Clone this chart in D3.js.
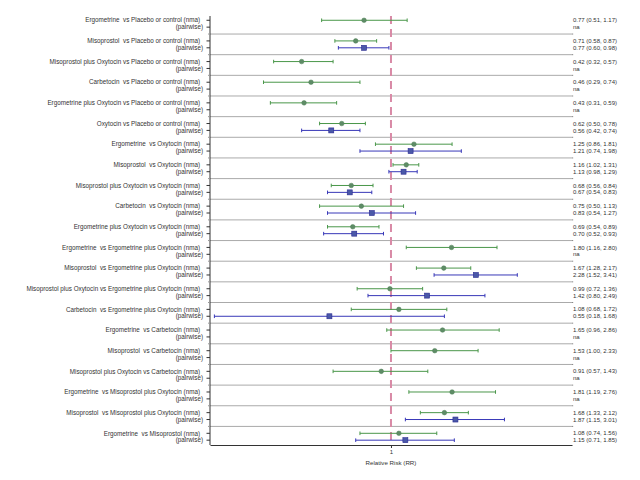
<!DOCTYPE html>
<html>
<head>
<meta charset="utf-8">
<script src="https://cdn.jsdelivr.net/npm/d3@7/dist/d3.min.js"></script>
<style>
  html, body { margin: 0; padding: 0; background: #fff; }
  svg { display: block; }
  text { font-family: "Liberation Sans", Arial, sans-serif; white-space: pre; }
</style>
</head>
<body>
<svg id="chart" width="640" height="480"></svg>
<script>
// ---- DATA ----
const comparisons = [
  "Ergometrine  vs Placebo or control",
  "Misoprostol  vs Placebo or control",
  "Misoprostol plus Oxytocin vs Placebo or control",
  "Carbetocin  vs Placebo or control",
  "Ergometrine plus Oxytocin vs Placebo or control",
  "Oxytocin vs Placebo or control",
  "Ergometrine  vs Oxytocin",
  "Misoprostol  vs Oxytocin",
  "Misoprostol plus Oxytocin vs Oxytocin",
  "Carbetocin  vs Oxytocin",
  "Ergometrine plus Oxytocin vs Oxytocin",
  "Ergometrine  vs Ergometrine plus Oxytocin",
  "Misoprostol  vs Ergometrine plus Oxytocin",
  "Misoprostol plus Oxytocin vs Ergometrine plus Oxytocin",
  "Carbetocin  vs Ergometrine plus Oxytocin",
  "Ergometrine  vs Carbetocin",
  "Misoprostol  vs Carbetocin",
  "Misoprostol plus Oxytocin vs Carbetocin",
  "Ergometrine  vs Misoprostol plus Oxytocin",
  "Misoprostol  vs Misoprostol plus Oxytocin",
  "Ergometrine  vs Misoprostol"
];
const nmaRR    = [0.77,0.71,0.42,0.46,0.43,0.62,1.25,1.16,0.68,0.75,0.69,1.80,1.67,0.99,1.08,1.65,1.53,0.91,1.81,1.68,1.08];
const nmaLow   = [0.51,0.58,0.32,0.29,0.31,0.50,0.86,1.02,0.56,0.50,0.54,1.16,1.28,0.72,0.68,0.96,1.00,0.57,1.19,1.33,0.74];
const nmaHigh  = [1.17,0.87,0.57,0.74,0.59,0.78,1.81,1.31,0.84,1.13,0.89,2.80,2.17,1.36,1.72,2.86,2.33,1.43,2.76,2.12,1.56];
const pwRR     = [null,0.77,null,null,null,0.56,1.21,1.13,0.67,0.83,0.70,null,2.28,1.42,0.55,null,null,null,null,1.87,1.15];
const pwLow    = [null,0.60,null,null,null,0.42,0.74,0.98,0.54,0.54,0.52,null,1.52,0.80,0.18,null,null,null,null,1.15,0.71];
const pwHigh   = [null,0.98,null,null,null,0.74,1.98,1.29,0.83,1.27,0.93,null,3.41,2.49,1.68,null,null,null,null,3.01,1.85];
const xTicks   = [1];
const xTitle   = "Relative Risk (RR)";

// ---- LAYOUT ----
const svg = d3.select("#chart");
const pLeft = 210, pRight = 572, pTop = 16, pBottom = 445;
const n = comparisons.length;
const x = d3.scaleLog().domain([0.1725, 5.8]).range([pLeft, pRight]);
const y = d3.scaleLinear().domain([-0.62, 3 * n - 1.3]).range([pTop, pBottom]);

const fmt = v => v.toFixed(2);
const cNmaLine = "#4a974a", cNmaPt = "#5e8c66";
const cPwLine = "#3838b8", cPwPt = "#4a58a8";

// separators
const seps = d3.range(n - 1).map(i => 3 * i + 2);
svg.append("g").selectAll("line").data(seps).join("line")
  .attr("x1", pLeft).attr("x2", pRight)
  .attr("y1", d => y(d)).attr("y2", d => y(d))
  .attr("stroke", "#aaaaaa").attr("stroke-width", 1);

// reference line
svg.append("line")
  .attr("x1", x(1)).attr("x2", x(1))
  .attr("y1", pTop).attr("y2", pBottom)
  .attr("stroke", "#d98aa6").attr("stroke-width", 2)
  .attr("stroke-dasharray", "8,5");

// rows
const rows = [];
comparisons.forEach((c, i) => {
  rows.push({k: 3 * i, rr: nmaRR[i], lo: nmaLow[i], hi: nmaHigh[i], type: "nma"});
  rows.push({k: 3 * i + 1, rr: pwRR[i], lo: pwLow[i], hi: pwHigh[i], type: "pw"});
});
const drawn = rows.filter(r => r.rr != null);

const g = svg.append("g");
g.selectAll("line.ci").data(drawn).join("line").attr("class", "ci")
  .attr("x1", d => x(d.lo)).attr("x2", d => x(d.hi))
  .attr("y1", d => y(d.k)).attr("y2", d => y(d.k))
  .attr("stroke", d => d.type === "nma" ? cNmaLine : cPwLine).attr("stroke-width", 1);
["lo", "hi"].forEach(key => {
  g.selectAll("line.cap-" + key).data(drawn).join("line").attr("class", "cap-" + key)
    .attr("x1", d => x(d[key])).attr("x2", d => x(d[key]))
    .attr("y1", d => y(d.k) - 1.8).attr("y2", d => y(d.k) + 1.8)
    .attr("stroke", d => d.type === "nma" ? cNmaLine : cPwLine).attr("stroke-width", 1);
});
g.selectAll("circle").data(drawn.filter(d => d.type === "nma")).join("circle")
  .attr("cx", d => x(d.rr)).attr("cy", d => y(d.k)).attr("r", 2.3)
  .attr("fill", cNmaPt).attr("stroke", "#4f7f57").attr("stroke-width", 0.5);
g.selectAll("rect").data(drawn.filter(d => d.type === "pw")).join("rect")
  .attr("x", d => x(d.rr) - 2.5).attr("y", d => y(d.k) - 2.5)
  .attr("width", 5).attr("height", 5)
  .attr("fill", cPwPt).attr("stroke", "#2a2a90").attr("stroke-width", 0.6);

// left labels
const lab = svg.append("g").attr("font-size", 6.3).attr("fill", "#333");
comparisons.forEach((c, i) => {
  lab.append("text").attr("x", 200).attr("y", y(3 * i)).attr("dy", "0.35em")
    .attr("text-anchor", "end").text(c + " (nma)");
  lab.append("text").attr("x", 203).attr("y", y(3 * i + 1)).attr("dy", "0.35em")
    .attr("text-anchor", "end").text("(pairwise)");
});

// right values
const val = svg.append("g").attr("font-size", 6).attr("fill", "#333");
rows.forEach(r => {
  const t = r.rr == null ? "na" : `${fmt(r.rr)} (${fmt(r.lo)}, ${fmt(r.hi)})`;
  val.append("text").attr("x", 573).attr("y", y(r.k)).attr("dy", "0.35em").text(t);
});
svg.append("g").selectAll("line").data(seps).join("line")
  .attr("x1", pRight).attr("x2", pRight + 1.2)
  .attr("y1", d => y(d)).attr("y2", d => y(d))
  .attr("stroke", "#888").attr("stroke-width", 1);

// left axis with ticks
const ax = svg.append("g");
ax.append("line").attr("x1", pLeft).attr("x2", pLeft).attr("y1", pTop).attr("y2", pBottom)
  .attr("stroke", "#333").attr("stroke-width", 1);
ax.selectAll("line.rt").data(rows).join("line").attr("class", "rt")
  .attr("x1", pLeft - 3.5).attr("x2", pLeft).attr("y1", d => y(d.k)).attr("y2", d => y(d.k))
  .attr("stroke", "#333").attr("stroke-width", 1);
ax.selectAll("line.st").data(seps).join("line").attr("class", "st")
  .attr("x1", pLeft - 2).attr("x2", pLeft).attr("y1", d => y(d)).attr("y2", d => y(d))
  .attr("stroke", "#999").attr("stroke-width", 1);

// bottom axis
const xa = svg.append("g").attr("transform", `translate(0,${pBottom})`)
  .call(d3.axisBottom(x).tickValues(xTicks).tickFormat(d3.format("d"))
    .tickSize(3).tickSizeOuter(0).tickPadding(2));
xa.select(".domain").attr("stroke", "#333");
xa.selectAll(".tick line").attr("stroke", "#333");
xa.selectAll("text").attr("font-size", 6).attr("fill", "#333")
  .attr("font-family", "Liberation Sans, Arial, sans-serif");
svg.append("text").attr("x", x(1)).attr("y", 465).attr("text-anchor", "middle")
  .attr("font-size", 6.2).attr("fill", "#333").text(xTitle);
</script>
</body>
</html>
